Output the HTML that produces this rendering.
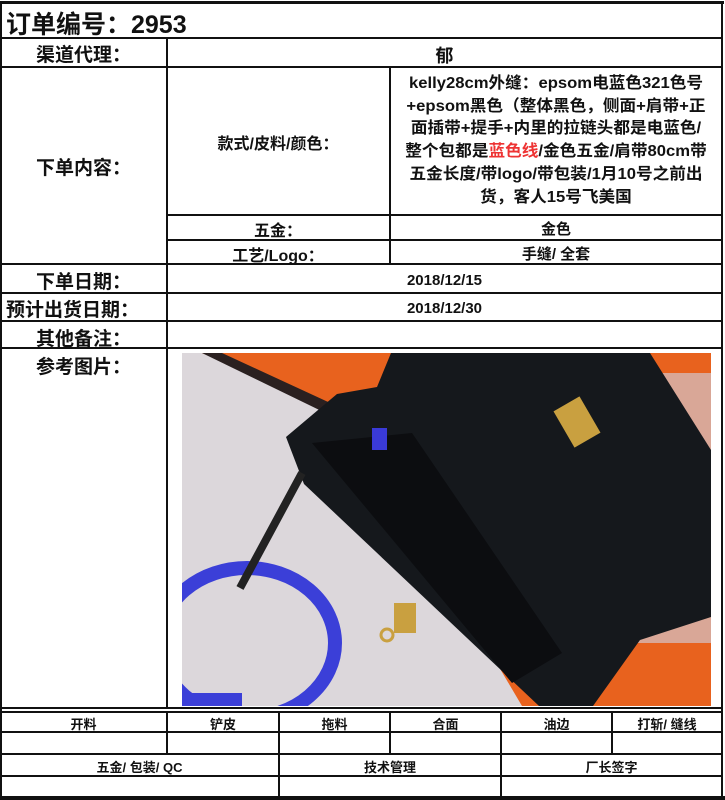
<!DOCTYPE html>
<html><head><meta charset="utf-8"><style>
body{margin:0;width:725px;height:800px;background:#fff;position:relative;overflow:hidden;font-family:"Liberation Sans","Noto Sans CJK SC",sans-serif;font-weight:bold;color:#111}
.h{position:absolute;height:2px;background:#111}
.v{position:absolute;width:2px;background:#111}
.t{position:absolute;text-align:center;white-space:nowrap}
.L{font-size:19px;left:0;width:167px}
.s{font-size:13px}
</style></head><body>
<div class="h" style="left:0;width:724px;top:1px;height:3px"></div>
<div class="h" style="left:0;width:723px;top:37px"></div>
<div class="h" style="left:0;width:723px;top:66px"></div>
<div class="h" style="left:167px;width:556px;top:214px"></div>
<div class="h" style="left:167px;width:556px;top:239px"></div>
<div class="h" style="left:0;width:723px;top:263px"></div>
<div class="h" style="left:0;width:723px;top:292px"></div>
<div class="h" style="left:0;width:723px;top:320px"></div>
<div class="h" style="left:0;width:723px;top:347px"></div>
<div class="h" style="left:0;width:723px;top:707px"></div>
<div class="h" style="left:0;width:723px;top:711px"></div>
<div class="h" style="left:0;width:723px;top:731px"></div>
<div class="h" style="left:0;width:723px;top:753px"></div>
<div class="h" style="left:0;width:723px;top:775px"></div>
<div class="h" style="left:0;width:725px;top:796px;height:4px"></div>
<div class="v" style="left:0;top:2px;height:797px"></div>
<div class="v" style="left:721px;top:2px;height:797px"></div>
<div class="v" style="left:166px;top:38px;height:670px"></div>
<div class="v" style="left:389px;top:67px;height:197px"></div>
<div class="v" style="left:166px;top:712px;height:42px"></div>
<div class="v" style="left:278px;top:712px;height:86px"></div>
<div class="v" style="left:389px;top:712px;height:42px"></div>
<div class="v" style="left:500px;top:712px;height:86px"></div>
<div class="v" style="left:611px;top:712px;height:42px"></div>

<div class="t" style="left:6px;top:5px;font-size:25px">订单编号：2953</div>
<div class="t L" style="top:40px">渠道代理：</div>
<div class="t" style="left:167px;width:555px;top:42px;font-size:18px">郁</div>
<div class="t L" style="top:153px">下单内容：</div>
<div class="t" style="left:167px;width:222px;top:130px;font-size:16px">款式/皮料/颜色：</div>
<div class="t" style="left:390px;width:332px;top:73px;line-height:22.7px;font-size:16px;transform:scaleX(1.04);transform-origin:50% 0">kelly28cm外缝：epsom电蓝色321色号<br>+epsom黑色（整体黑色，侧面+肩带+正<br>面插带+提手+内里的拉链头都是电蓝色/<br>整个包都是<span style="color:#e33">蓝色线</span>/金色五金/肩带80cm带<br>五金长度/带logo/带包装/1月10号之前出<br>货，客人15号飞美国</div>
<div class="t" style="left:167px;width:222px;top:217px;font-size:16px">五金：</div>
<div class="t" style="left:390px;width:332px;top:218px;font-size:15px">金色</div>
<div class="t" style="left:167px;width:222px;top:242px;font-size:16px">工艺/Logo：</div>
<div class="t" style="left:390px;width:332px;top:243px;font-size:15px">手缝/ 全套</div>
<div class="t L" style="top:267px">下单日期：</div>
<div class="t" style="left:167px;width:555px;top:272px;font-size:15px">2018/12/15</div>
<div class="t" style="top:295px;left:6px;font-size:19px">预计出货日期：</div>
<div class="t" style="left:167px;width:555px;top:300px;font-size:15px">2018/12/30</div>
<div class="t L" style="top:324px">其他备注：</div>
<div class="t L" style="top:352px">参考图片：</div>

<svg style="position:absolute;left:182px;top:353px" width="529" height="353" viewBox="0 0 529 353">
<rect width="529" height="353" fill="#e8621e"/>
<polygon points="0,0 20,0 170,65 340,353 0,353" fill="#dcd7db"/>
<polygon points="20,0 40,0 170,60 160,68" fill="#2a2020"/>
<polygon points="445,20 529,20 529,290 445,290" fill="#d9a797"/>
<polygon points="209,0 468,0 529,97 529,264 458,287 411,353 357,353 122,131 104,84 155,41 195,34" fill="#15181c"/>
<polygon points="130,90 230,80 380,300 330,330" fill="#0c0d10"/>
<ellipse cx="65" cy="290" rx="88" ry="75" fill="none" stroke="#3b3fd8" stroke-width="14"/>
<line x1="120" y1="120" x2="58" y2="235" stroke="#222" stroke-width="8"/>
<rect x="380" y="48" width="30" height="42" fill="#c9a040" transform="rotate(-30 395 69)"/>
<rect x="212" y="250" width="22" height="30" fill="#c9a040"/>
<circle cx="205" cy="282" r="6" fill="none" stroke="#c9a040" stroke-width="3"/>
<rect x="190" y="75" width="15" height="22" fill="#3a3ad8"/>
<rect x="0" y="340" width="60" height="13" fill="#3b3fd8"/>
</svg>

<div class="t s" style="left:0;width:167px;top:714px">开料</div>
<div class="t s" style="left:167px;width:112px;top:714px">铲皮</div>
<div class="t s" style="left:279px;width:111px;top:714px">拖料</div>
<div class="t s" style="left:390px;width:111px;top:714px">合面</div>
<div class="t s" style="left:501px;width:111px;top:714px">油边</div>
<div class="t s" style="left:612px;width:110px;top:714px">打斩/ 缝线</div>
<div class="t s" style="left:0;width:279px;top:757px">五金/ 包装/ QC</div>
<div class="t s" style="left:279px;width:222px;top:757px">技术管理</div>
<div class="t s" style="left:501px;width:221px;top:757px">厂长签字</div>
</body></html>
